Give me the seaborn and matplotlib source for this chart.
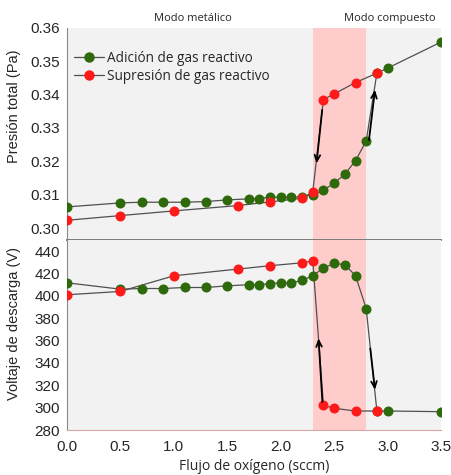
import matplotlib
matplotlib.use("Agg")
import matplotlib.pyplot as plt
from matplotlib.lines import Line2D
import seaborn as sns
import pandas as pd

# Oxygen flow (sccm) and measured values while adding reactive gas
flow_add = [0.0, 0.5, 0.7, 0.9, 1.1, 1.3, 1.5, 1.7, 1.8, 1.9, 2.0, 2.1, 2.2,
            2.3, 2.4, 2.5, 2.6, 2.7, 2.8, 2.9, 3.0, 3.5]
pressure_add = [0.3064, 0.3076, 0.3078, 0.3078, 0.3078, 0.3080, 0.3085, 0.3088,
                0.3089, 0.3093, 0.3093, 0.3093, 0.3095, 0.3100, 0.3114, 0.3135,
                0.3162, 0.3202, 0.3261, 0.3464, 0.3479, 0.3557]
voltage_add = [411.7, 406.0, 406.6, 406.6, 407.5, 407.5, 409.0, 410.0, 410.0,
               411.0, 411.7, 411.7, 413.8, 418.0, 425.0, 429.0, 428.0, 418.0,
               388.7, 297.0, 297.0, 296.4]

# Oxygen flow (sccm) and measured values while removing reactive gas
flow_rem = [0.0, 0.5, 1.0, 1.6, 1.9, 2.2, 2.3, 2.4, 2.5, 2.7, 2.9]
pressure_rem = [0.3024, 0.3038, 0.3052, 0.3068, 0.3079, 0.3090, 0.3109,
                0.3385, 0.3402, 0.3436, 0.3464]
voltage_rem = [401.0, 404.0, 418.0, 424.0, 427.0, 429.6, 431.4, 302.0, 299.4,
               297.0, 297.0]

label_add = "Adición de gas reactivo"
label_rem = "Supresión de gas reactivo"
transition = (2.3, 2.8)

pressure_ticks = [0.30, 0.31, 0.32, 0.33, 0.34, 0.35, 0.36]
voltage_ticks = [280, 300, 320, 340, 360, 380, 400, 420, 440]
flow_ticks = [0.0, 0.5, 1.0, 1.5, 2.0, 2.5, 3.0, 3.5]

GREEN = "#2e6a0c"
RED = "#ff1a1a"
LINE = "#505050"
BG = "#f2f2f2"
PINK = "#ffcccc"
SPINE = "#8a8a8a"
TEXT = "#262626"
OPEN = ["Open Sans", "DejaVu Sans"]

sns.set_style("white")
plt.rcParams["font.family"] = ["Liberation Sans", "DejaVu Sans"]

add_df = pd.DataFrame({"flow": flow_add, "pressure": pressure_add, "voltage": voltage_add})
rem_df = pd.DataFrame({"flow": flow_rem, "pressure": pressure_rem, "voltage": voltage_rem})

W, H = 451, 475
fig = plt.figure(figsize=(W / 100, H / 100), dpi=100)
fig.patch.set_facecolor("white")

x0, x1 = 67, 441
ax_p = fig.add_axes([x0 / W, 1 - 240 / H, (x1 - x0) / W, (240 - 27.7) / H])
ax_v = fig.add_axes([x0 / W, 1 - 430 / H, (x1 - x0) / W, (430 - 240) / H])

def draw(ax, col):
    ax.set_facecolor(BG)
    ax.axvspan(*transition, color=PINK, lw=0, zorder=0)
    sns.lineplot(data=add_df, x="flow", y=col, color=LINE, lw=0.9, ax=ax,
                 sort=False, estimator=None, zorder=2)
    sns.lineplot(data=rem_df, x="flow", y=col, color=LINE, lw=0.9, ax=ax,
                 sort=False, estimator=None, zorder=2)
    sns.scatterplot(data=add_df, x="flow", y=col, color=GREEN, s=52,
                    linewidth=0, ax=ax, zorder=3)
    sns.scatterplot(data=rem_df, x="flow", y=col, color=RED, s=52,
                    linewidth=0, ax=ax, zorder=4)
    ax.set_xlim(0, 3.5)
    for side in ("top", "right"):
        ax.spines[side].set_visible(False)
    ax.spines["left"].set_color(SPINE)
    ax.spines["left"].set_linewidth(0.8)
    ax.tick_params(axis="both", direction="out", length=4, width=0.8,
                   color=SPINE, labelsize=11, labelcolor=TEXT, pad=1)

draw(ax_p, "pressure")
draw(ax_v, "voltage")

# Pressure panel
ax_p.set_ylim(0.2965, 0.36)
ax_p.set_yticks(pressure_ticks)
ax_p.set_yticklabels([f"{t:.2f}" for t in pressure_ticks])
ax_p.set_xticks([])
ax_p.spines["bottom"].set_color("#7a7a7a")
ax_p.spines["bottom"].set_linewidth(1.4)
ax_p.set_xlabel("")
ax_p.set_ylabel("Presión total (Pa)", fontsize=10.5, color=TEXT)
ax_p.yaxis.set_label_coords(-0.122, 0.63)

# Voltage panel
ax_v.set_ylim(280, 450)
ax_v.set_yticks(voltage_ticks)
ax_v.set_xticks(flow_ticks)
ax_v.set_xticklabels([f"{t:.1f}" for t in flow_ticks])
ax_v.tick_params(axis="x", pad=3)
ax_v.spines["bottom"].set_color("#d9a6a6")
ax_v.spines["bottom"].set_linewidth(0.8)
ax_v.set_ylabel("Voltaje de descarga (V)", fontsize=10.5, color=TEXT)
ax_v.yaxis.set_label_coords(-0.122, 0.56)
ax_v.set_xlabel("Flujo de oxígeno (sccm)", fontsize=10, color=TEXT,
                family=OPEN, labelpad=4)

# Hysteresis direction arrows
arrow = dict(arrowstyle="->,head_length=0.45,head_width=0.2", color="black", lw=1.3,
             shrinkA=0, shrinkB=0)
ax_p.annotate("", xy=(2.335, 0.3194), xytext=(2.388, 0.3354), arrowprops=arrow, zorder=5)
ax_p.annotate("", xy=(2.882, 0.3414), xytext=(2.826, 0.3264), arrowprops=arrow, zorder=5)
ax_v.annotate("", xy=(2.354, 362), xytext=(2.39, 305), arrowprops=arrow, zorder=5)
ax_v.annotate("", xy=(2.882, 316), xytext=(2.838, 353), arrowprops=arrow, zorder=5)

# Mode annotations above the plot
for xpos, txt in ((1.18, "Modo metálico"), (3.02, "Modo compuesto")):
    ax_p.text(xpos, 1.045, txt, transform=ax_p.get_xaxis_transform(),
              ha="center", va="center", fontsize=8, color=TEXT, family=OPEN)

handles = [
    Line2D([], [], color=LINE, lw=0.9, marker="o", markersize=7.5,
           markerfacecolor=GREEN, markeredgewidth=0),
    Line2D([], [], color=LINE, lw=0.9, marker="o", markersize=7.5,
           markerfacecolor=RED, markeredgewidth=0),
]
ax_p.legend(handles, [label_add, label_rem], loc="upper left",
            bbox_to_anchor=(0.005, 0.918), frameon=False,
            prop={"family": OPEN, "size": 9.8},
            handlelength=2.2, handletextpad=0.2, labelspacing=0.25,
            borderaxespad=0, labelcolor=TEXT)

fig.savefig("out.png", dpi=100, facecolor="white")
